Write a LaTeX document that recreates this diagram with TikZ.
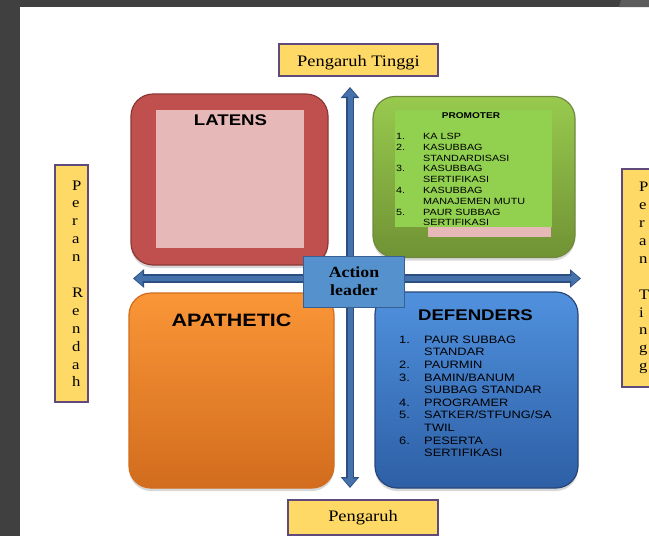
\documentclass[tikz,border=0pt]{standalone}
\usepackage{fontspec}
\usetikzlibrary{shadows, arrows.meta}
\newfontfamily\arialfont[FakeStretch=1.2]{Liberation Sans}
\newfontfamily\timesfont[FakeStretch=1.15]{Liberation Serif}
\definecolor{framegray}{RGB}{64,64,64}
\definecolor{framelight}{RGB}{92,92,92}
\definecolor{labelyellow}{RGB}{255,217,102}
\definecolor{labelpurple}{RGB}{96,74,123}
\definecolor{latensred}{RGB}{192,80,77}
\definecolor{latensdark}{RGB}{140,56,54}
\definecolor{latenspink}{RGB}{230,184,183}
\definecolor{promotop}{RGB}{152,202,78}
\definecolor{promobot}{RGB}{112,146,52}
\definecolor{promodark}{RGB}{113,137,63}
\definecolor{promoinner}{RGB}{146,208,80}
\definecolor{apatop}{RGB}{250,150,55}
\definecolor{apabot}{RGB}{210,108,30}
\definecolor{deftop}{RGB}{80,145,222}
\definecolor{defbot}{RGB}{45,95,165}
\definecolor{defdark}{RGB}{40,70,120}
\definecolor{actionblue}{RGB}{84,145,205}
\definecolor{actiondark}{RGB}{55,95,145}
\definecolor{axisblue}{RGB}{70,114,172}
\definecolor{axisdark}{RGB}{44,78,128}
\newcommand{\pnum}[1]{\makebox[27pt][l]{#1}}
\newcommand{\dnum}[1]{\makebox[25pt][l]{#1}}

\begin{document}
\begin{tikzpicture}[
            x=1pt, y=-1pt,
            yellowbox/.style={draw=labelpurple, line width=2pt, fill=labelyellow, inner sep=0pt, font=\timesfont\fontsize{16}{18}\selectfont},
            quadbox/.style={rounded corners=22pt, inner sep=0pt, line width=1.2pt, drop shadow={opacity=0.3, shadow xshift=0pt, shadow yshift=-3pt}},
            innerbox/.style={inner sep=0pt, draw=none},
            sanstitle/.style={anchor=base, inner sep=0pt, font=\arialfont\bfseries\fontsize{#1}{#1}\selectfont},
            sanslist/.style 2 args={anchor=north west, inner sep=0pt, align=left, font=\arialfont\fontsize{#1}{#2}\selectfont},
            letters/.style={anchor=north west, inner sep=0pt, align=left, font=\timesfont\fontsize{14.5}{17.9}\selectfont},
            actionbox/.style={draw=actiondark, line width=1pt, fill=actionblue, inner sep=0pt, align=center, font=\timesfont\bfseries\fontsize{15.5}{17.7}\selectfont},
            axisedge/.style={line width=8.5pt, axisdark, {Triangle[width=18pt,length=11pt]}-{Triangle[width=18pt,length=11pt]}},
            axis/.style={line width=5pt, axisblue, shorten >=1.6pt, shorten <=1.6pt, {Triangle[width=14pt,length=8pt]}-{Triangle[width=14pt,length=8pt]}}
        ]
            \useasboundingbox (0,0) rectangle (649,536);
            \clip (0,0) rectangle (649,536);
            \fill[framegray] (0,0) rectangle (649,536);
            \fill[white] (20,7) rectangle (649,536);
            \fill[framelight] (619,7) -- (621,0) -- (649,0) -- (649,7) -- cycle;

            \coordinate (axtop) at (350,87);
            \coordinate (axbot) at (350,488);
            \coordinate (axleft) at (133,278.5);
            \coordinate (axright) at (581,278.5);
            \draw[axisedge] (axbot) -- (axtop);
            \draw[axis] (axbot) -- (axtop);
            \draw[axisedge] (axleft) -- (axright);
            \draw[axis] (axleft) -- (axright);

            \node[quadbox, draw=latensdark, fill=latensred, minimum width=197pt, minimum height=171pt] (latens) at (229.5,179.5) {};
            \node[innerbox, fill=latenspink, minimum width=148pt, minimum height=138pt] (latensin) at (230,179) {};
            \node[sanstitle=15.5] (latenstitle) at (230.5,125) {LATENS};

            \node[quadbox, draw=promodark, top color=promotop, bottom color=promobot, minimum width=202pt, minimum height=161pt] (promoter) at (474,177) {};
            \node[innerbox, fill=latenspink, minimum width=123pt, minimum height=10pt] (promostrip) at (489.5,232) {};
            \node[innerbox, fill=promoinner, minimum width=157pt, minimum height=117pt] (promoin) at (473.5,168.5) {};
            \node[sanstitle=8.4] (promotitle) at (471,118) {PROMOTER};
            \node[sanslist={9}{10.8}] (promolist) at (396,133.1) {\pnum{1.}KA LSP\\\pnum{2.}KASUBBAG\\\pnum{}STANDARDISASI\\\pnum{3.}KASUBBAG\\\pnum{}SERTIFIKASI\\\pnum{4.}KASUBBAG\\\pnum{}MANAJEMEN MUTU\\\pnum{5.}PAUR SUBBAG\\\pnum{}SERTIFIKASI};

            \node[quadbox, draw=apabot, top color=apatop, bottom color=apabot, minimum width=205pt, minimum height=195pt] (apathetic) at (231.5,390.5) {};
            \node[sanstitle=17.9] (apatitle) at (231.5,326) {APATHETIC};

            \node[quadbox, draw=defdark, top color=deftop, bottom color=defbot, minimum width=203pt, minimum height=196pt] (defenders) at (476.5,390) {};
            \node[sanstitle=15.5] (deftitle) at (475.5,320.7) {DEFENDERS};
            \node[sanslist={10.7}{12.6}] (deflist) at (399,335.6) {\dnum{1.}PAUR SUBBAG\\\dnum{}STANDAR\\\dnum{2.}PAURMIN\\\dnum{3.}BAMIN/BANUM\\\dnum{}SUBBAG STANDAR\\\dnum{4.}PROGRAMER\\\dnum{5.}SATKER/STFUNG/SA\\\dnum{}TWIL\\\dnum{6.}PESERTA\\\dnum{}SERTIFIKASI};

            \node[actionbox, minimum width=101pt, minimum height=51pt] (action) at (354,281.5) {Action\\leader};

            \node[yellowbox, minimum width=159pt, minimum height=32pt, text height=13pt, text depth=0pt] (hightop) at (358.5,60) {Pengaruh Tinggi};
            \node[yellowbox, minimum width=150pt, minimum height=35pt, text height=8.4pt, text depth=0pt] (lowbottom) at (363,517.5) {Pengaruh};

            \node[yellowbox, minimum width=33pt, minimum height=237pt] (lowrole) at (71,283.5) {};
            \node[letters] (lowroletxt) at (72,180.4) {P\\e\\r\\a\\n\\\mbox{}\\R\\e\\n\\d\\a\\h};
            \node[yellowbox, minimum width=33pt, minimum height=218pt] (highrole) at (638.5,278) {};
            \node[letters] (highroletxt) at (639,182.1) {P\\e\\r\\a\\n\\\mbox{}\\T\\i\\n\\g\\g};
        \end{tikzpicture}
\end{document}
